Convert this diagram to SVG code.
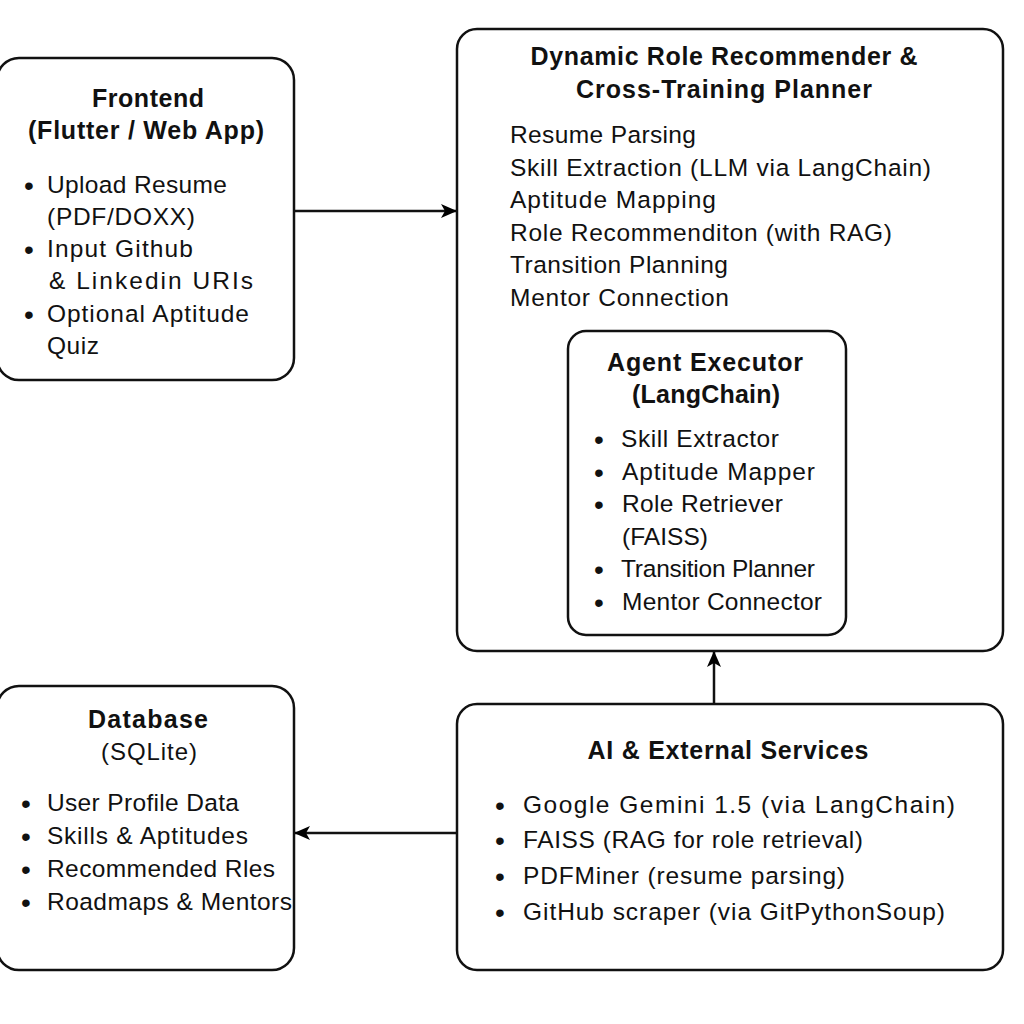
<svg xmlns="http://www.w3.org/2000/svg" width="1024" height="1024" viewBox="0 0 1024 1024">
<defs>
<marker id="ah" markerWidth="16" markerHeight="14" refX="15" refY="7" orient="auto" markerUnits="userSpaceOnUse">
<path d="M0,0 L16,7 L0,14 L4,7 Z" fill="#000"/>
</marker>
<style>
.box{fill:#fff;stroke:#111;stroke-width:2.5}
text{font-family:"Liberation Sans",Arial,sans-serif;fill:#111}
.t{font-size:25px;font-weight:bold;text-anchor:middle}
.s{font-size:24px;text-anchor:middle}
.i{font-size:24.5px}
.b{font-size:28px}
.c{stroke:#111;stroke-width:2.5;fill:none;marker-end:url(#ah)}
</style>
</defs>
<rect width="1024" height="1024" fill="#fff"/>
<g id="connectors">
<line class="c" x1="294" y1="211" x2="456" y2="211"/>
<line class="c" x1="714" y1="704" x2="714" y2="652"/>
<line class="c" x1="457" y1="833" x2="295" y2="833"/>
</g>
<g id="frontend">
<rect class="box" x="-3" y="58" width="297" height="322" rx="22"/>
<text class="t" x="148" y="107" textLength="112">Frontend</text>
<text class="t" x="146" y="139" textLength="236">(Flutter / Web App)</text>
<text class="b" x="24" y="195">•</text><text class="i" x="47" y="193" textLength="180">Upload Resume</text>
<text class="i" x="47" y="225" textLength="148">(PDF/DOXX)</text>
<text class="b" x="24" y="259">•</text><text class="i" x="47" y="257" textLength="146">Input Github</text>
<text class="i" x="49" y="289" textLength="204">&amp; Linkedin URIs</text>
<text class="b" x="24" y="324">•</text><text class="i" x="47" y="322" textLength="202">Optional Aptitude</text>
<text class="i" x="47" y="354" textLength="52">Quiz</text>
</g>
<g id="planner">
<rect class="box" x="457" y="29" width="546" height="622" rx="20"/>
<text class="t" x="724" y="65" textLength="387">Dynamic Role Recommender &amp;</text>
<text class="t" x="724" y="98" textLength="296">Cross-Training Planner</text>
<text class="i" x="510" y="143" textLength="186">Resume Parsing</text>
<text class="i" x="510" y="176" textLength="421">Skill Extraction (LLM via LangChain)</text>
<text class="i" x="510" y="208" textLength="206">Aptitude Mapping</text>
<text class="i" x="510" y="241" textLength="382">Role Recommenditon (with RAG)</text>
<text class="i" x="510" y="273" textLength="218">Transition Planning</text>
<text class="i" x="510" y="306" textLength="219">Mentor Connection</text>
</g>
<g id="agent">
<rect class="box" x="568" y="331" width="278" height="304" rx="18"/>
<text class="t" x="705" y="371" textLength="196">Agent Executor</text>
<text class="t" x="706" y="403" textLength="148">(LangChain)</text>
<text class="b" x="594" y="449">•</text><text class="i" x="621" y="447" textLength="158">Skill Extractor</text>
<text class="b" x="594" y="482">•</text><text class="i" x="622" y="480" textLength="193">Aptitude Mapper</text>
<text class="b" x="594" y="514">•</text><text class="i" x="622" y="512" textLength="161">Role Retriever</text>
<text class="i" x="622" y="545" textLength="86">(FAISS)</text>
<text class="b" x="594" y="579">•</text><text class="i" x="621" y="577" textLength="194">Transition Planner</text>
<text class="b" x="594" y="612">•</text><text class="i" x="622" y="610" textLength="200">Mentor Connector</text>
</g>
<g id="database">
<rect class="box" x="-3" y="686" width="297" height="284" rx="22"/>
<text class="t" x="148" y="728" textLength="120">Database</text>
<text class="s" x="149" y="760" textLength="96">(SQLite)</text>
<text class="b" x="21" y="813">•</text><text class="i" x="47" y="811" textLength="192">User Profile Data</text>
<text class="b" x="21" y="846">•</text><text class="i" x="47" y="844" textLength="201">Skills &amp; Aptitudes</text>
<text class="b" x="21" y="879">•</text><text class="i" x="47" y="877" textLength="228">Recommended Rles</text>
<text class="b" x="21" y="912">•</text><text class="i" x="47" y="910" textLength="245">Roadmaps &amp; Mentors</text>
</g>
<g id="ai">
<rect class="box" x="457" y="704" width="546" height="266" rx="20"/>
<text class="t" x="728" y="759" textLength="281">AI &amp; External Services</text>
<text class="b" x="495" y="815">•</text><text class="i" x="523" y="813" textLength="432">Google Gemini 1.5 (via LangChain)</text>
<text class="b" x="495" y="850">•</text><text class="i" x="523" y="848" textLength="340">FAISS (RAG for role retrieval)</text>
<text class="b" x="495" y="886">•</text><text class="i" x="523" y="884" textLength="322">PDFMiner (resume parsing)</text>
<text class="b" x="495" y="922">•</text><text class="i" x="523" y="920" textLength="422">GitHub scraper (via GitPythonSoup)</text>
</g>
</svg>
